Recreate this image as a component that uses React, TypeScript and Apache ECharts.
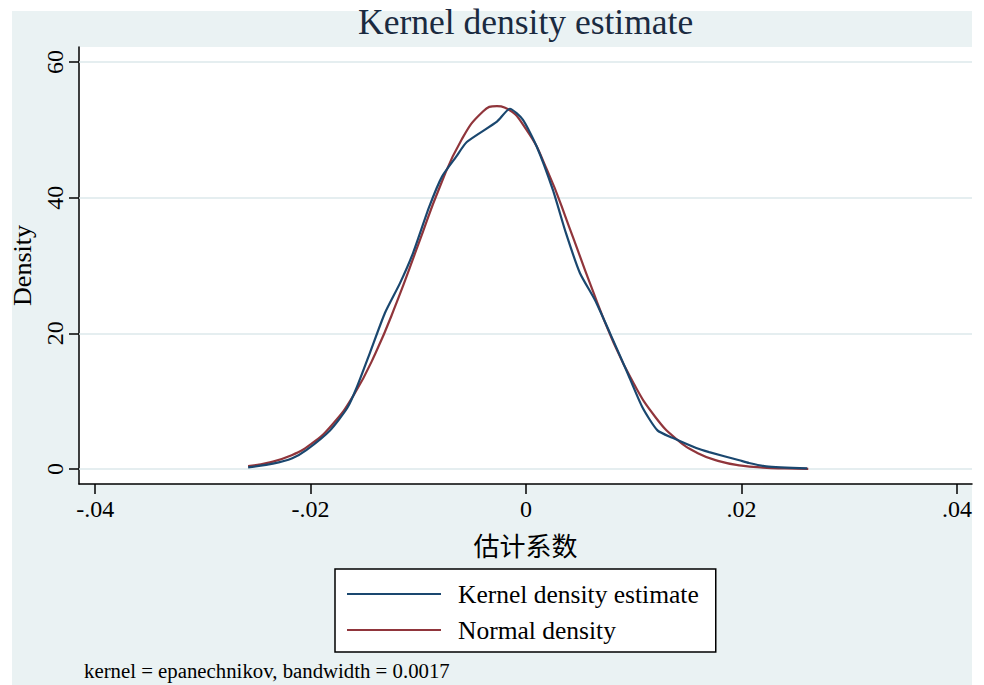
import React, { useEffect, useRef } from "react";
import * as echarts from "echarts";

const titleText = "Kernel density estimate";
const xAxisTitle = "估计系数";
const yAxisTitle = "Density";
const noteText = "kernel = epanechnikov, bandwidth = 0.0017";
const seriesNames = ["Kernel density estimate", "Normal density"];

const xTickValues = [-0.04, -0.02, 0, 0.02, 0.04];
const xTickLabels = ["-.04", "-.02", "0", ".02", ".04"];
const yTickValues = [0, 20, 40, 60];
const yTickLabels = ["0", "20", "40", "60"];

// kernel density estimate (x, density)
const kernelX = [
  -0.0258, -0.0235, -0.0217, -0.0204, -0.0182, -0.0166, -0.0157, -0.0145, -0.0131, -0.0117,
  -0.0105, -0.009, -0.0078, -0.0065, -0.0055, -0.0027, -0.0015, -0.0003, 0.001, 0.0025,
  0.0037, 0.005, 0.0064, 0.0078, 0.0093, 0.0108, 0.0122, 0.0136, 0.0158, 0.017,
  0.0198, 0.0207, 0.0223, 0.0261,
];
const kernelY = [
  0.25, 0.8, 1.6, 2.8, 5.7, 9.0, 12.1, 17.1, 23.0, 27.4,
  31.8, 38.6, 43.1, 46.0, 48.2, 51.2, 53.1, 51.5, 47.5, 41.1,
  34.8, 28.9, 24.9, 20.0, 14.6, 9.1, 5.7, 4.6, 3.1, 2.5,
  1.3, 0.9, 0.4, 0.1,
];

// normal density (x, density)
const normalX = [
  -0.0258, -0.024, -0.022, -0.02, -0.018, -0.016, -0.014, -0.012, -0.01, -0.008,
  -0.006, -0.004, -0.0027, -0.002, 0.0, 0.002, 0.004, 0.006, 0.008, 0.01,
  0.012, 0.014, 0.016, 0.018, 0.02, 0.022, 0.024, 0.0262,
];
const normalY = [
  0.44, 0.91, 1.88, 3.63, 6.53, 10.9, 17.0, 24.6, 33.1, 41.6,
  48.5, 52.7, 53.5, 53.3, 50.1, 43.9, 35.7, 27.1, 19.1, 12.6,
  7.68, 4.37, 2.31, 1.14, 0.52, 0.22, 0.09, 0.03,
];

const SERIF = "'Liberation Serif', 'Times New Roman', serif";
const BLUE = "#1A476F";
const RED = "#90353B";
const BG = "#EAF2F3";
const GRID = "#DCE8EB";

export default function App() {
  const ref = useRef<HTMLDivElement>(null);

  useEffect(() => {
    if (!ref.current) return;
    const chart = echarts.init(ref.current, null, { renderer: "svg" });
    const kernelData = kernelX.map((x, i) => [x, kernelY[i]]);
    const normalData = normalX.map((x, i) => [x, normalY[i]]);

    chart.setOption({
      animation: false,
      backgroundColor: "#ffffff",
      textStyle: { fontFamily: SERIF },
      title: {
        text: titleText,
        left: 358,
        top: 4,
        padding: 0,
        textStyle: { fontFamily: SERIF, fontSize: 35.5, fontWeight: "normal", color: "#1a2a40" },
      },
      graphic: [
        {
          type: "rect",
          z: -100,
          silent: true,
          shape: { x: 12, y: 11, width: 960, height: 674 },
          style: { fill: BG },
        },
        {
          type: "text",
          z: 10,
          left: 84,
          top: 660,
          style: { text: noteText, font: `20.8px ${SERIF}`, fill: "#000" },
        },
      ],
      legend: {
        orient: "vertical",
        left: 335,
        top: 569,
        padding: [11, 17, 8, 12],
        backgroundColor: "#ffffff",
        borderColor: "#000",
        borderWidth: 1.5,
        borderRadius: 0,
        icon: "rect",
        itemWidth: 94,
        itemHeight: 2.2,
        itemGap: 8,
        selectedMode: false,
        textStyle: {
          fontFamily: SERIF,
          fontSize: 25.5,
          color: "#000",
          lineHeight: 28,
          padding: [0, 0, 0, 12],
        },
        data: seriesNames,
      },
      grid: {
        left: 79,
        right: 12,
        top: 47,
        bottom: 201,
        show: true,
        backgroundColor: "#ffffff",
        borderWidth: 0,
      },
      xAxis: {
        type: "value",
        min: -0.0415,
        max: 0.0414,
        name: xAxisTitle,
        nameLocation: "middle",
        nameGap: 47,
        nameTextStyle: { fontFamily: "'Noto Sans CJK SC', sans-serif", fontSize: 26, color: "#000" },
        axisLine: { show: true, onZero: false, lineStyle: { color: "#000", width: 1.5 } },
        axisTick: { show: true, length: 10, customValues: xTickValues, lineStyle: { color: "#000", width: 1.5 } },
        axisLabel: {
          customValues: xTickValues,
          margin: 13,
          fontFamily: SERIF,
          fontSize: 24,
          color: "#000",
          formatter: (v: number) => {
            const i = xTickValues.findIndex((t) => Math.abs(t - v) < 1e-9);
            return i >= 0 ? xTickLabels[i] : "";
          },
        },
        splitLine: { show: false },
      },
      yAxis: {
        type: "value",
        min: -2.2,
        max: 62.2,
        name: yAxisTitle,
        nameLocation: "middle",
        nameRotate: 90,
        nameGap: 43,
        nameTextStyle: { fontFamily: SERIF, fontSize: 26, color: "#000" },
        axisLine: { show: true, onZero: false, lineStyle: { color: "#000", width: 1.5 } },
        axisTick: { show: true, length: 10, customValues: yTickValues, lineStyle: { color: "#000", width: 1.5 } },
        axisLabel: {
          customValues: yTickValues,
          rotate: 90,
          margin: 12,
          fontFamily: SERIF,
          fontSize: 24,
          color: "#000",
          formatter: (v: number) => {
            const i = yTickValues.findIndex((t) => Math.abs(t - v) < 1e-9);
            return i >= 0 ? yTickLabels[i] : "";
          },
        },
        splitLine: { show: false },
      },
      series: [
        {
          name: seriesNames[0],
          type: "line",
          data: kernelData,
          symbol: "none",
          smooth: 0.2,
          z: 4,
          color: BLUE,
          lineStyle: { color: BLUE, width: 2.2 },
          markLine: {
            silent: true,
            symbol: "none",
            z: 1,
            label: { show: false },
            lineStyle: { color: GRID, width: 1.5, type: "solid" },
            data: yTickValues.map((v) => ({ yAxis: v })),
          },
        },
        {
          name: seriesNames[1],
          type: "line",
          data: normalData,
          symbol: "none",
          smooth: true,
          z: 3,
          color: RED,
          lineStyle: { color: RED, width: 2.2 },
        },
      ],
    });

    return () => chart.dispose();
  }, []);

  return (
    <div
      ref={ref}
      style={{ position: "absolute", left: 0, top: 0, width: 984, height: 685 }}
    />
  );
}
